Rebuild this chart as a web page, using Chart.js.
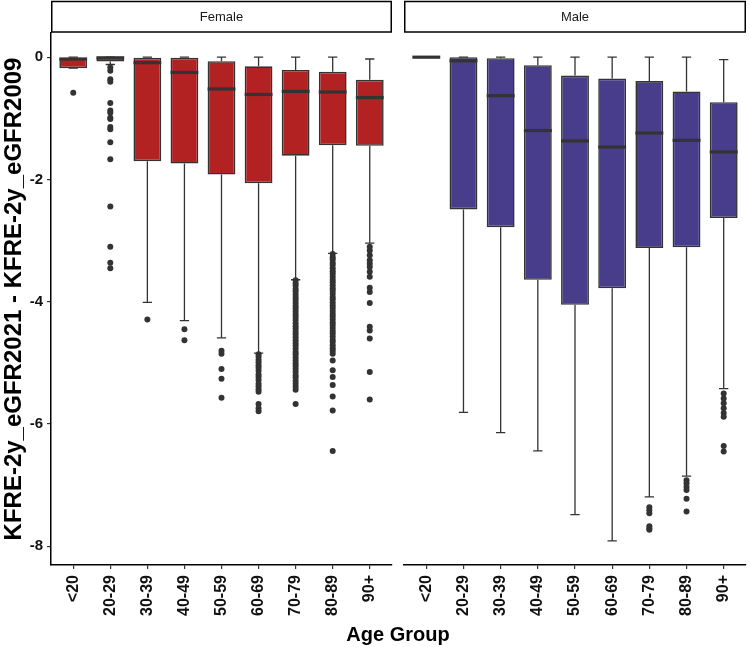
<!DOCTYPE html>
<html>
<head>
<meta charset="utf-8">
<script src="https://cdn.jsdelivr.net/npm/chart.js@4.4.0/dist/chart.umd.min.js"></script>
<style>
  html, body { margin: 0; padding: 0; background: #ffffff; }
  #wrap { position: relative; width: 750px; height: 647px; overflow: hidden; }
  .panel { position: absolute; top: 0; height: 647px; }
  #xtitle { position: absolute; left: 298px; top: 622px; width: 200px; text-align: center;
            font: bold 20px "Liberation Sans", Arial, sans-serif; color: #000; line-height: 24px; }
</style>
</head>
<body>
<div id="wrap">
  <div class="panel" style="left:0px; width:396px;"><canvas id="female"></canvas></div>
  <div class="panel" style="left:400px; width:350px;"><canvas id="male"></canvas></div>
  <div id="xtitle">Age Group</div>
</div>
<script>
// ---------- data ----------
const categories = ['<20', '20-29', '30-39', '40-49', '50-59', '60-69', '70-79', '80-89', '90+'];
const yTicks = [0, -2, -4, -6, -8];

const femaleLow    = [-0.18, -0.12, -4.01, -4.31, -4.59, -4.84, -3.64, -3.21, -3.04];
const femaleQ1     = [-0.18, -0.07, -1.70, -1.74, -1.92, -2.06, -1.61, -1.44, -1.45];
const femaleMedian = [-0.03, -0.01, -0.09, -0.25, -0.52, -0.61, -0.56, -0.57, -0.66];
const femaleQ3     = [0.00, 0.00, 0.00, -0.01, -0.065, -0.15, -0.21, -0.24, -0.37];
const femaleHigh   = [0.00, 0.00, 0.00, 0.00, 0.00, 0.00, 0.00, 0.00, -0.03];
const femaleOutliers = [
  [-0.58],
  [-0.17, -0.22, -0.36, -0.40, -0.75, -0.87, -0.91, -0.99, -1.01, -1.14, -1.18, -1.39, -1.67, -2.44, -3.10, -3.36, -3.45],
  [-4.29],
  [-4.45, -4.63],
  [-4.80, -4.85, -5.10, -5.26, -5.57],
  [-4.86, -4.90, -4.95, -4.99, -5.04, -5.08, -5.13, -5.19, -5.23, -5.28, -5.34, -5.38, -5.43, -5.47, -5.67, -5.74, -5.79],
  [-3.65, -3.70, -3.74, -3.79, -3.83, -3.88, -3.93, -3.97, -4.02, -4.07, -4.11, -4.16, -4.21, -4.25, -4.30, -4.35, -4.40,
   -4.44, -4.49, -4.53, -4.58, -4.63, -4.68, -4.72, -4.77, -4.82, -4.86, -4.91, -4.96, -5.01, -5.05, -5.10, -5.15,
   -5.20, -5.24, -5.29, -5.34, -5.39, -5.44, -5.67],
  [-3.22, -3.27, -3.31, -3.36, -3.40, -3.45, -3.50, -3.54, -3.59, -3.64, -3.68, -3.73, -3.78, -3.82, -3.87, -3.92,
   -3.96, -4.01, -4.06, -4.10, -4.15, -4.20, -4.24, -4.29, -4.34, -4.38, -4.43, -4.48, -4.52, -4.57, -4.62, -4.66,
   -4.71, -4.76, -4.80, -4.85, -4.96, -5.12, -5.23, -5.36, -5.55, -5.78, -6.44],
  [-3.10, -3.16, -3.24, -3.32, -3.38, -3.43, -3.51, -3.59, -3.77, -3.84, -4.02, -4.41, -4.47, -4.60, -5.15, -5.60]
];

const maleLow    = [0.00, -5.81, -6.14, -6.44, -7.48, -7.91, -7.19, -6.85, -5.42];
const maleQ1     = [0.00, -2.49, -2.78, -3.64, -4.05, -3.78, -3.12, -3.11, -2.63];
const maleMedian = [0.00, -0.06, -0.63, -1.20, -1.37, -1.47, -1.24, -1.36, -1.55];
const maleQ3     = [0.00, 0.00, -0.016, -0.13, -0.30, -0.35, -0.39, -0.56, -0.735];
const maleHigh   = [0.00, 0.00, 0.00, 0.00, 0.00, 0.00, 0.00, 0.00, -0.04];
const maleOutliers = [
  [], [], [], [], [], [],
  [-7.36, -7.41, -7.46, -7.67, -7.71, -7.73],
  [-6.92, -6.97, -7.03, -7.08, -7.22, -7.43],
  [-5.50, -5.58, -5.66, -5.74, -5.82, -5.88, -6.36, -6.45]
];

// ---------- styling ----------
const FEMALE_FILL = '#B22222';
const MALE_FILL = '#483D8B';
const LINE = '#333333';
const FONT = '"Liberation Sans", Arial, sans-serif';
const Y_MIN = -8.305, Y_MAX = 0.3955;

function boxPlugin(low, q1, med, q3, high, label) {
  return {
    id: 'box_' + label,
    beforeDraw(chart) {
      // facet strip
      const ctx = chart.ctx, a = chart.chartArea;
      ctx.save();
      ctx.fillStyle = '#ffffff';
      ctx.fillRect(a.left, 1, a.right - a.left, 31);
      ctx.strokeStyle = '#000000';
      ctx.lineWidth = 1.5;
      ctx.strokeRect(a.left + 0.75, 1.5, a.right - a.left - 1.5, 30.5);
      ctx.fillStyle = '#1a1a1a';
      ctx.font = '13px ' + FONT;
      ctx.textAlign = 'center';
      ctx.textBaseline = 'middle';
      ctx.fillText(label, (a.left + a.right) / 2, 17);
      ctx.restore();
    },
    beforeDatasetsDraw(chart) {
      const ctx = chart.ctx, xs = chart.scales.x, ys = chart.scales.y;
      const step = xs.getPixelForValue(1) - xs.getPixelForValue(0);
      const cap = step * 0.25 / 2;
      ctx.save();
      ctx.strokeStyle = LINE;
      ctx.lineWidth = 1.3;
      for (let i = 0; i < categories.length; i++) {
        const x = xs.getPixelForValue(i);
        const yl = ys.getPixelForValue(low[i]), y1 = ys.getPixelForValue(q1[i]);
        const y3 = ys.getPixelForValue(q3[i]), yh = ys.getPixelForValue(high[i]);
        ctx.beginPath();
        ctx.moveTo(x, y1); ctx.lineTo(x, yl);
        ctx.moveTo(x, y3); ctx.lineTo(x, yh);
        ctx.moveTo(x - cap, yl); ctx.lineTo(x + cap, yl);
        ctx.moveTo(x - cap, yh); ctx.lineTo(x + cap, yh);
        ctx.stroke();
      }
      ctx.restore();
    },
    afterDatasetsDraw(chart) {
      const ctx = chart.ctx, xs = chart.scales.x, ys = chart.scales.y;
      const step = xs.getPixelForValue(1) - xs.getPixelForValue(0);
      const half = step * 0.75 / 2;
      ctx.save();
      ctx.strokeStyle = LINE;
      ctx.lineWidth = 3.2;
      for (let i = 0; i < categories.length; i++) {
        const x = xs.getPixelForValue(i);
        const y = ys.getPixelForValue(med[i]);
        ctx.beginPath();
        ctx.moveTo(x - half, y); ctx.lineTo(x + half, y);
        ctx.stroke();
      }
      ctx.restore();
    }
  };
}

function makeChart(id, label, fill, low, q1, med, q3, high, outliers, showY, padLeft, padRight) {
  const boxData = categories.map((c, i) => [q1[i], q3[i]]);
  const pts = [];
  outliers.forEach((arr, i) => arr.forEach(v => pts.push({ x: categories[i], y: v })));
  return new Chart(document.getElementById(id), {
    type: 'bar',
    data: {
      labels: categories,
      datasets: [
        {
          type: 'bar',
          data: boxData,
          backgroundColor: fill,
          borderColor: LINE,
          borderWidth: 1.6,
          borderSkipped: false,
          barPercentage: 0.75,
          categoryPercentage: 1.0,
          order: 2
        },
        {
          type: 'scatter',
          data: pts,
          pointRadius: 3,
          pointBackgroundColor: LINE,
          pointBorderWidth: 0,
          showLine: false,
          order: 1
        }
      ]
    },
    options: {
      responsive: true,
      maintainAspectRatio: false,
      animation: false,
      events: [],
      layout: { padding: { top: 33, left: padLeft, right: padRight, bottom: 0 } },
      plugins: { legend: { display: false }, tooltip: { enabled: false }, title: { display: false } },
      scales: {
        x: {
          type: 'category',
          offset: true,
          grid: { display: true, drawOnChartArea: false, drawTicks: true, tickLength: 4, color: LINE, lineWidth: 1.2, offset: false },
          border: { display: true, color: '#000000', width: 1.5 },
          ticks: {
            autoSkip: false, minRotation: 90, maxRotation: 90, padding: 6,
            color: '#111111', font: { family: FONT, size: 16, weight: 'bold' }
          },
          afterBuildTicks(scale) {
            // ggplot-style discrete expansion of 0.6 category on each side
            scale._startValue = -0.6;
            scale._valueRange = categories.length - 1 + 1.2;
          },
          afterFit(scale) { scale.height = 82; }
        },
        y: {
          display: showY,
          min: Y_MIN, max: Y_MAX,
          afterBuildTicks(scale) { scale.ticks = yTicks.map(v => ({ value: v })); },
          grid: { display: true, drawOnChartArea: false, drawTicks: true, tickLength: 4, color: LINE, lineWidth: 1.2 },
          border: { display: true, color: '#000000', width: 1.5 },
          ticks: { padding: 4, color: '#111111', font: { family: FONT, size: 15, weight: 'bold' } },
          title: {
            display: showY,
            text: 'KFRE-2y_eGFR2021 - KFRE-2y_eGFR2009',
            color: '#000000',
            font: { family: FONT, size: 24, weight: 'bold' },
            padding: { top: 0, bottom: 0 }
          },
          afterFit(scale) { if (showY) scale.width = 51; }
        }
      }
    },
    plugins: [boxPlugin(low, q1, med, q3, high, label)]
  });
}

makeChart('female', 'Female', FEMALE_FILL, femaleLow, femaleQ1, femaleMedian, femaleQ3, femaleHigh, femaleOutliers, true, 0, 2);
makeChart('male', 'Male', MALE_FILL, maleLow, maleQ1, maleMedian, maleQ3, maleHigh, maleOutliers, false, 4, 3);
</script>
</body>
</html>
